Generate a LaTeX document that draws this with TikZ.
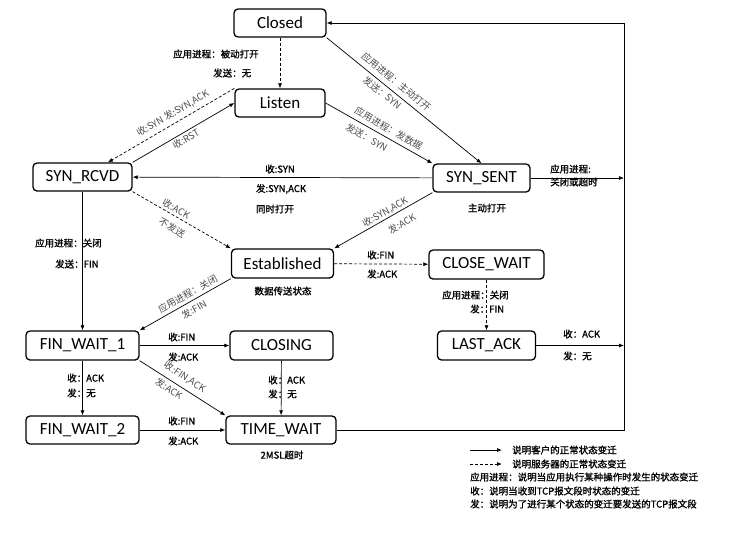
\documentclass[tikz,border=0pt]{standalone}
\usepackage{fontspec}
\setmainfont{Carlito}
\newfontfamily\cjk{Noto Sans CJK SC}
\newfontfamily\cjkheavy[FakeBold=1.3]{Noto Sans CJK SC}
\usetikzlibrary{arrows.meta,calc}

\begin{document}
\begin{tikzpicture}[x=1pt,y=-1pt,
  state/.style={draw, line width=1.3pt, rounded corners=4pt, minimum height=28pt,
                inner sep=0pt, font=\fontsize{17}{17}\selectfont},
  tr/.style={line width=0.7pt, -{Latex[length=5pt,width=4pt]}},
  srv/.style={tr, dash pattern=on 3pt off 2pt},
  lab/.style={font=\cjkheavy\fontsize{9.5}{10}\selectfont, inner sep=0pt},
  slab/.style={font=\cjk\fontsize{9.5}{10}\selectfont, inner sep=0pt, sloped, text=black!70},
]
\useasboundingbox (0,0) rectangle (730,536);

% states
\node[state, minimum width=92pt] (closed) at (280,23) {Closed};
\node[state, minimum width=90pt] (listen) at (280,103) {Listen};
\node[state, minimum width=99pt] (synrcvd) at (82.5,177) {SYN\_RCVD};
\node[state, minimum width=97pt] (synsent) at (481.5,178) {SYN\_SENT};
\node[state, minimum width=102pt, minimum height=29pt] (estab) at (282.5,263.5) {Established};
\node[state, minimum width=115pt, minimum height=29pt] (closewait) at (486.5,264.5) {CLOSE\_WAIT};
\node[state, minimum width=113pt, minimum height=29pt] (fw1) at (82.5,345.5) {FIN\_WAIT\_1};
\node[state, minimum width=103pt, minimum height=29pt] (closing) at (281.5,345.5) {CLOSING};
\node[state, minimum width=98pt, minimum height=29pt] (lastack) at (486.5,345.5) {LAST\_ACK};
\node[state, minimum width=113pt] (fw2) at (82.5,430) {FIN\_WAIT\_2};
\node[state, minimum width=110pt] (timewait) at (281,430) {TIME\_WAIT};

% vertical rail on the right that leads back to Closed
\coordinate (rail) at (624,23);

% transitions
\draw[srv] (closed) -- (listen);
\node[lab, anchor=west] (l1a) at (173,54) {应用进程：被动打开};
\node[lab, anchor=west] (l1b) at (213,73) {发送：无};

\draw[tr] (closed.south east) -- (synsent.north)
  node[slab, pos=0.41, above=5pt] (l2a) {应用进程：主动打开}
  node[slab, pos=0.39, below=3pt] (l2b) {发送：SYN};

\draw[tr] (listen.east) -- (synsent.north west)
  node[slab, pos=0.55, above=4pt] (l3a) {应用进程：发数据}
  node[slab, pos=0.43, below=5pt] (l3b) {发送：SYN};

\draw[srv] (listen.north west) -- (synrcvd.30)
  node[slab, pos=0.45, above=4pt] (l4a) {收:SYN 发:SYN,ACK};
\draw[tr] (synrcvd.north east) -- (listen.west)
  node[slab, pos=0.49, below=2pt] (l4b) {收:RST};

\draw[tr] (synsent) -- (synrcvd);
\node[lab] (l5a) at (280,169) {收:SYN};
\node[lab] (l5b) at (281,189) {发:SYN,ACK};
\node[lab] (l5c) at (275,209) {同时打开};

\draw[tr] (synsent.east) -- (synsent.east -| rail);
\node[lab, anchor=west] (l6a) at (550,169) {应用进程:};
\node[lab, anchor=west] (l6b) at (550,182) {关闭或超时};
\node[lab] (l6c) at (487,208) {主动打开};

\draw[srv] (synrcvd.south east) -- (estab.north west)
  node[slab, pos=0.41, above=2pt] (l7a) {收:ACK}
  node[slab, pos=0.46, below=7pt] (l7b) {不发送};

\draw[tr] (synsent.south west) -- (estab.north east)
  node[slab, pos=0.45, above=1pt] (l8a) {收:SYN,ACK}
  node[slab, pos=0.37, below=7pt] (l8b) {发:ACK};

\node[lab] (l9) at (283,291) {数据传送状态};

\draw[srv] (estab) -- (closewait);
\node[lab, anchor=west] (l10a) at (367,255) {收:FIN};
\node[lab, anchor=west] (l10b) at (367,274) {发:ACK};

\draw[srv] (closewait) -- (lastack);
\node[lab, anchor=west] (l11a) at (442,295) {应用进程：关闭};
\node[lab, anchor=west] (l11b) at (470,309) {发：FIN};

\draw[tr] (synrcvd) -- (fw1);
\node[lab, anchor=west] (l12a) at (35,243) {应用进程：关闭};
\node[lab, anchor=west] (l12b) at (55,264) {发送：FIN};

\draw[tr] (estab.south west) -- (fw1.north east)
  node[slab, pos=0.43, above=3pt] (l13a) {应用进程：关闭}
  node[slab, pos=0.45, below=4pt] (l13b) {发:FIN};

\draw[tr] (fw1) -- (closing);
\node[lab, anchor=west] (l14a) at (168,337) {收:FIN};
\node[lab, anchor=west] (l14b) at (168,357) {发:ACK};

\draw[tr] (fw1.south east) -- (timewait.north west)
  node[slab, pos=0.46, above=5pt] (l15a) {收:FIN,ACK}
  node[slab, pos=0.39, below=3pt] (l15b) {发:ACK};

\draw[tr] (fw1) -- (fw2);
\node[lab, anchor=west] (l16a) at (67,378) {收：ACK};
\node[lab, anchor=west] (l16b) at (67,393) {发：无};

\draw[tr] (closing) -- (timewait);
\node[lab, anchor=west] (l17a) at (268,380) {收：ACK};
\node[lab, anchor=west] (l17b) at (268,394) {发：无};

\draw[tr] (fw2) -- (timewait);
\node[lab, anchor=west] (l18a) at (168,421) {收:FIN};
\node[lab, anchor=west] (l18b) at (168,441) {发:ACK};

\node[lab] (l19) at (282,455) {2MSL超时};

\draw[tr] (lastack.east) -- (lastack.east -| rail);
\node[lab, anchor=west] (l20a) at (563,334) {收：ACK};
\node[lab, anchor=west] (l20b) at (563,356) {发：无};

\draw[tr] (timewait.east) -- (timewait.east -| rail) |- (closed.east);

% legend
\coordinate (k1a) at (470,450);
\coordinate (k1b) at (502,450);
\coordinate (k2a) at (470,464);
\coordinate (k2b) at (502,464);
\draw[tr] (k1a) -- (k1b);
\draw[srv] (k2a) -- (k2b);
\node[lab, anchor=west] (k1) at (512,450) {说明客户的正常状态变迁};
\node[lab, anchor=west] (k2) at (512,464) {说明服务器的正常状态变迁};
\node[lab, anchor=west] (k3) at (470,477) {应用进程：说明当应用执行某种操作时发生的状态变迁};
\node[lab, anchor=west] (k4) at (470,491) {收：说明当收到TCP报文段时状态的变迁};
\node[lab, anchor=west] (k5) at (470,504) {发：说明为了进行某个状态的变迁要发送的TCP报文段};
\end{tikzpicture}
\end{document}
